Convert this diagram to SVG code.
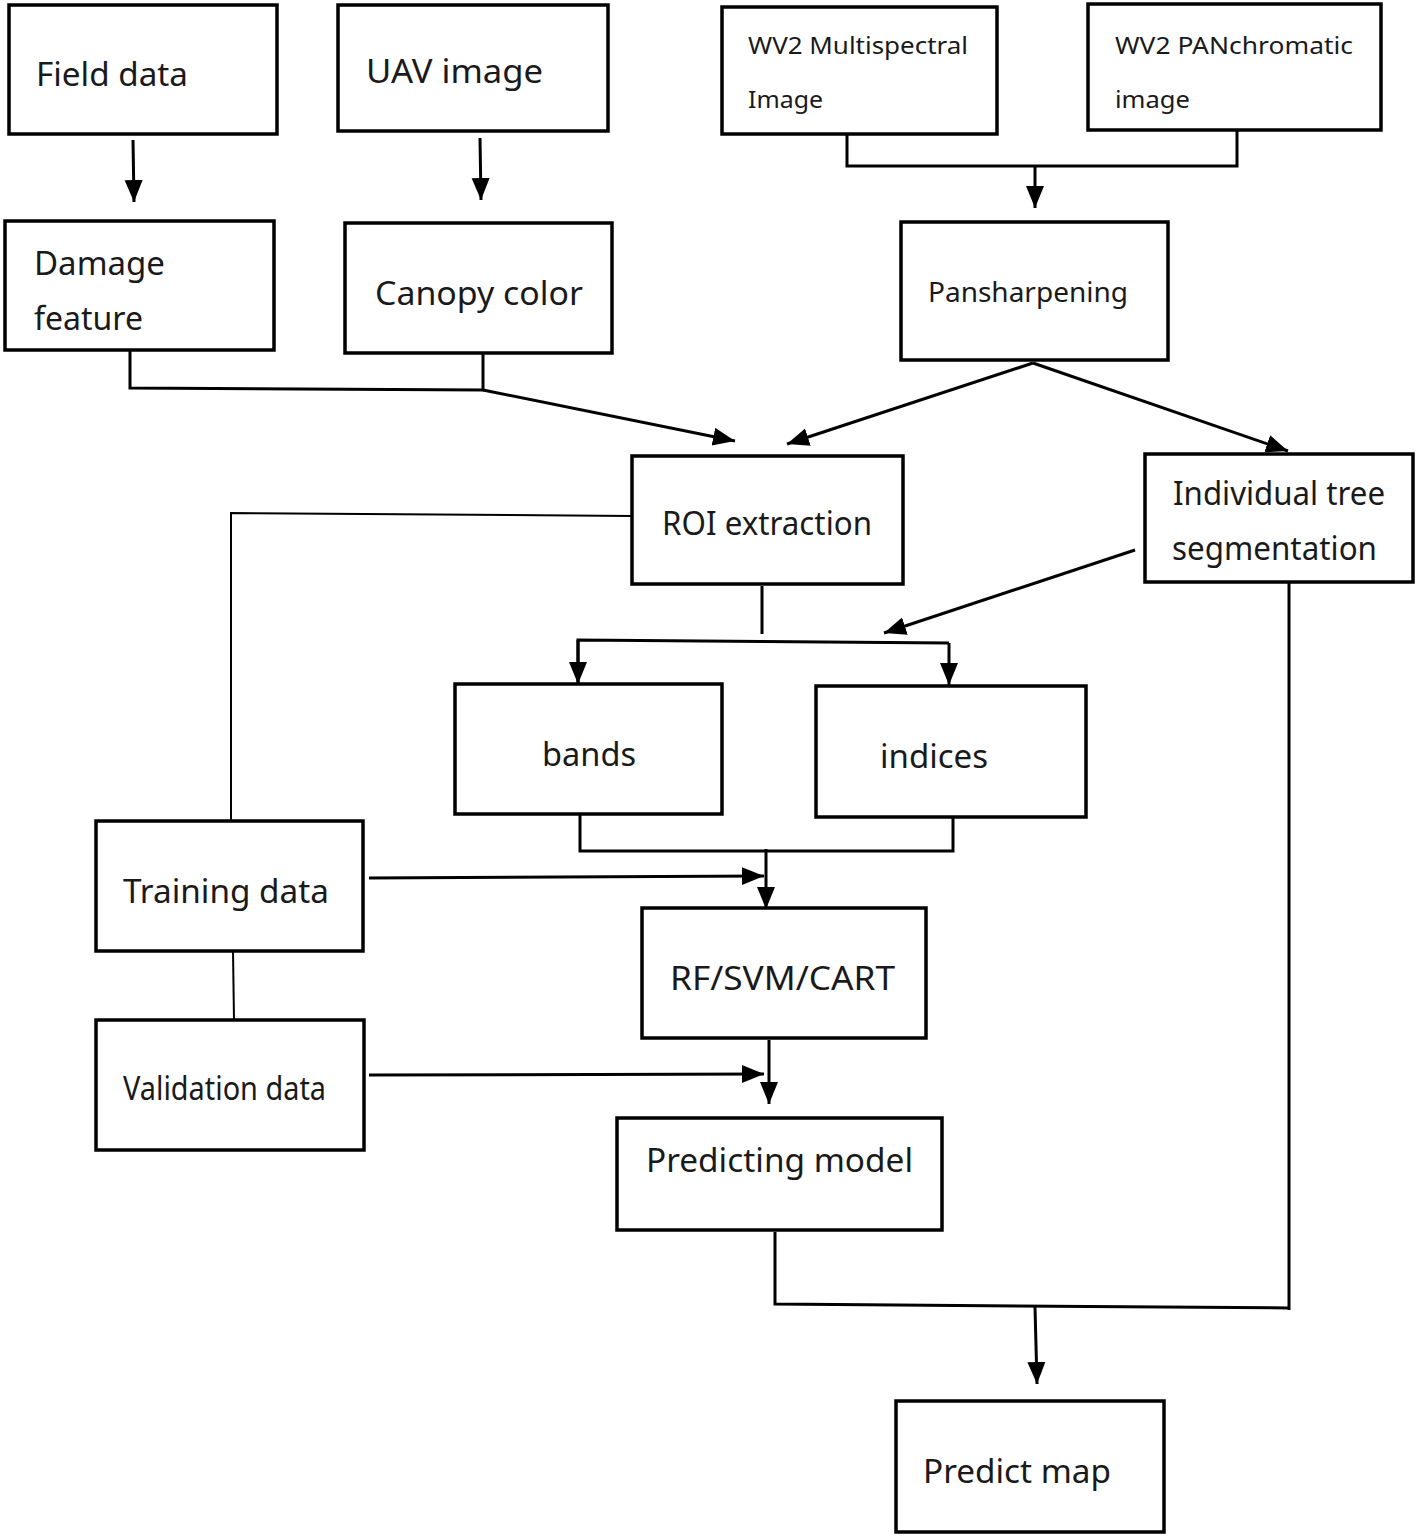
<svg xmlns="http://www.w3.org/2000/svg" width="1418" height="1537" viewBox="0 0 1418 1537">
<defs>
<marker id="ah" markerUnits="userSpaceOnUse" markerWidth="24" markerHeight="20" refX="22" refY="9" orient="auto">
<path d="M0,0 L22,9 L0,18 Z" fill="#000"/>
</marker>
<style>
.box{fill:#fff;stroke:#000;stroke-width:3.5}
.t{font-family:"Noto Sans","Open Sans",sans-serif;font-size:32px;fill:#1a1a1a}
.s{font-size:23px}
.m{font-size:28px}
.ln{fill:none;stroke:#000;stroke-width:3}
.th{fill:none;stroke:#000;stroke-width:2}
.ar{fill:none;stroke:#000;stroke-width:3;marker-end:url(#ah)}
</style>
</defs>
<rect width="1418" height="1537" fill="#fff"/>
<g id="connectors">
<path class="ar" d="M133,140 L134,202"/>
<path class="ar" d="M480,138 L481,200"/>
<path class="ln" d="M847,134 V166 H1237 V130"/>
<path class="ar" d="M1035,166 V208"/>
<path class="ln" d="M130,351 V388 L483,390 V353"/>
<path class="ar" d="M483,390 L735,441"/>
<path class="ar" d="M1033,363 L787,444"/>
<path class="ar" d="M1033,363 L1288,451"/>
<path class="th" d="M632,516 L231,513 V821"/>
<path class="ln" d="M762,586 V634"/>
<path class="ln" d="M578,683 V640 L949,643"/>
<path class="ar" d="M578,640 V684"/>
<path class="ar" d="M949,643 V685"/>
<path class="ar" d="M1135,550 L884,633"/>
<path class="ln" d="M1289,582 V1310"/>
<path class="ln" d="M580,815 V851 H953 V818"/>
<path class="ar" d="M766,849 V909"/>
<path class="ar" d="M369,878 L764,876"/>
<path class="th" d="M233,951 L234,1020"/>
<path class="ar" d="M769,1040 V1104"/>
<path class="ar" d="M369,1075 L764,1074"/>
<path class="ln" d="M775,1232 L775,1304 L1289,1308"/>
<path class="ar" d="M1035,1307 L1037,1384"/>
</g>
<g id="n-field"><rect class="box" x="9" y="5" width="268" height="129"/><text class="t" x="36" y="86" textLength="152" lengthAdjust="spacingAndGlyphs">Field data</text></g>
<g id="n-uav"><rect class="box" x="338" y="5" width="270" height="126"/><text class="t" x="366" y="83" textLength="177" lengthAdjust="spacingAndGlyphs">UAV image</text></g>
<g id="n-wv2ms"><rect class="box" x="722" y="7" width="275" height="127"/><text class="t s" x="748" y="54" textLength="220" lengthAdjust="spacingAndGlyphs">WV2 Multispectral</text><text class="t s" x="748" y="108" textLength="75" lengthAdjust="spacingAndGlyphs">Image</text></g>
<g id="n-wv2pan"><rect class="box" x="1088" y="4" width="293" height="126"/><text class="t s" x="1115" y="54" textLength="238" lengthAdjust="spacingAndGlyphs">WV2 PANchromatic</text><text class="t s" x="1115" y="108" textLength="75" lengthAdjust="spacingAndGlyphs">image</text></g>
<g id="n-damage"><rect class="box" x="5" y="221" width="269" height="129"/><text class="t" x="34" y="275" textLength="131" lengthAdjust="spacingAndGlyphs">Damage</text><text class="t" x="34" y="330" textLength="109" lengthAdjust="spacingAndGlyphs">feature</text></g>
<g id="n-canopy"><rect class="box" x="345" y="223" width="267" height="130"/><text class="t" x="375" y="305" textLength="208" lengthAdjust="spacingAndGlyphs">Canopy color</text></g>
<g id="n-pan"><rect class="box" x="901" y="222" width="267" height="138"/><text class="t m" x="928" y="302" textLength="200" lengthAdjust="spacingAndGlyphs">Pansharpening</text></g>
<g id="n-roi"><rect class="box" x="632" y="456" width="271" height="128"/><text class="t" x="662" y="535" textLength="210" lengthAdjust="spacingAndGlyphs">ROI extraction</text></g>
<g id="n-its"><rect class="box" x="1145" y="454" width="268" height="128"/><text class="t" x="1173" y="505" textLength="212" lengthAdjust="spacingAndGlyphs">Individual tree</text><text class="t" x="1172" y="560" textLength="205" lengthAdjust="spacingAndGlyphs">segmentation</text></g>
<g id="n-bands"><rect class="box" x="455" y="684" width="267" height="130"/><text class="t" x="542" y="766" textLength="94" lengthAdjust="spacingAndGlyphs">bands</text></g>
<g id="n-indices"><rect class="box" x="816" y="686" width="270" height="131"/><text class="t" x="880" y="768" textLength="108" lengthAdjust="spacingAndGlyphs">indices</text></g>
<g id="n-train"><rect class="box" x="96" y="821" width="267" height="130"/><text class="t" x="123" y="903" textLength="206" lengthAdjust="spacingAndGlyphs">Training data</text></g>
<g id="n-rf"><rect class="box" x="642" y="908" width="284" height="130"/><text class="t" x="670" y="990" textLength="225" lengthAdjust="spacingAndGlyphs">RF/SVM/CART</text></g>
<g id="n-valid"><rect class="box" x="96" y="1020" width="268" height="130"/><text class="t" x="123" y="1100" textLength="203" lengthAdjust="spacingAndGlyphs">Validation data</text></g>
<g id="n-pm"><rect class="box" x="617" y="1118" width="325" height="112"/><text class="t" x="646" y="1172" textLength="267" lengthAdjust="spacingAndGlyphs">Predicting model</text></g>
<g id="n-map"><rect class="box" x="896" y="1401" width="268" height="131"/><text class="t" x="923" y="1483" textLength="188" lengthAdjust="spacingAndGlyphs">Predict map</text></g>
</svg>
